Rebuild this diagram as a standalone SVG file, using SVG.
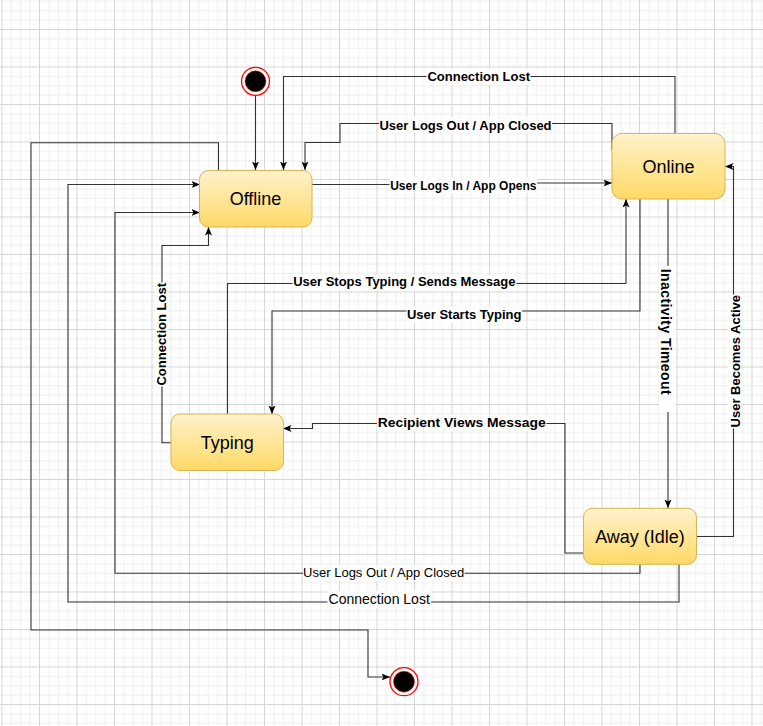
<svg xmlns="http://www.w3.org/2000/svg" width="763" height="726" viewBox="0 0 763 726">
<defs>
<pattern id="grid" patternUnits="userSpaceOnUse" x="1.5" y="-8.5" width="37.5" height="37.5">
<rect width="37.5" height="37.5" fill="#ffffff"/>
<g fill="#efefef">
<rect x="9.375" y="0" width="1" height="37.5"/>
<rect x="18.75" y="0" width="1" height="37.5"/>
<rect x="28.125" y="0" width="1" height="37.5"/>
<rect x="0" y="9.375" width="37.5" height="1"/>
<rect x="0" y="18.75" width="37.5" height="1"/>
<rect x="0" y="28.125" width="37.5" height="1"/>
</g>
<g fill="#d6d6d6">
<rect x="0" y="0" width="1" height="37.5"/>
<rect x="0" y="0" width="37.5" height="1"/>
</g>
</pattern>
<linearGradient id="yel" x1="0" y1="0" x2="0" y2="1">
<stop offset="0" stop-color="#fff2cc"/>
<stop offset="1" stop-color="#ffd966"/>
</linearGradient>
<marker id="arr" markerUnits="userSpaceOnUse" markerWidth="10" markerHeight="8" refX="8.5" refY="3.5" orient="auto">
<path d="M0,0 L8.5,3.5 L0,7 L2,3.5 z" fill="#000"/>
</marker>
<style>
.node rect{fill:url(#yel);stroke:#d6b656;stroke-width:1}
.node text{font-family:"Liberation Sans",Arial,sans-serif;font-size:18px;fill:#000;text-anchor:middle}
.edge{fill:none;stroke:#333;stroke-width:1.1;marker-end:url(#arr)}
.edgeN{fill:none;stroke:#333;stroke-width:1.1}
.lbl{font-family:"Liberation Sans",Arial,sans-serif;font-size:13px;font-weight:bold;fill:#000;text-anchor:middle}
.lbg{fill:#ffffff}
</style>
</defs>
<rect x="0" y="0" width="763" height="726" fill="url(#grid)"/>
<g id="connectors">
<path class="edge" d="M255.5,96 V170"/>
<path class="edge" d="M675,133 V76.5 H283.5 V170"/>
<path class="edge" d="M612,150 V123.5 H340 V142.5 H305 V170"/>
<path class="edge" d="M312,184.5 H463 V183 H612"/>
<path class="edge" d="M227.5,414 V283.5 H626 V199"/>
<path class="edge" d="M640,199 V311 H272 V414"/>
<path class="edge" d="M668,199 V508"/>
<path class="edge" d="M697,536.5 H733.5 V166.5 H725"/>
<path class="edge" d="M583,553 H565 V423.5 H312.5 V428.5 H283"/>
<path class="edge" d="M171,442.7 H162 V245.5 H208.5 V227"/>
<path class="edge" d="M640,564 V573.3 H115 V212.5 H200"/>
<path class="edge" d="M679,564 V602 H68 V184.5 H200"/>
<path class="edge" d="M218.5,170 V142.7 H31 V630 H368 V677 H390"/>
<g id="labels">
<rect class="lbg" x="426.5" y="69" width="104" height="16"/>
<text class="lbl" x="478.7" y="81">Connection Lost</text>
<rect class="lbg" x="379" y="117" width="173" height="16"/>
<text class="lbl" x="465.5" y="130">User Logs Out / App Closed</text>
<rect class="lbg" x="389.5" y="177" width="147.5" height="16"/>
<text class="lbl" x="463.3" y="190" style="font-size:12px">User Logs In / App Opens</text>
<rect class="lbg" x="292.5" y="275" width="224" height="16"/>
<text class="lbl" x="404.3" y="286">User Stops Typing / Sends Message</text>
<rect class="lbg" x="406.5" y="307" width="115.5" height="16"/>
<text class="lbl" x="464.2" y="318.5">User Starts Typing</text>
<rect class="lbg" x="377" y="415" width="169.5" height="16"/>
<text class="lbl" x="461.7" y="426.6" textLength="168" lengthAdjust="spacingAndGlyphs">Recipient Views Message</text>
<rect class="lbg" x="303" y="565" width="161.5" height="16"/>
<text class="lbl" x="383.7" y="576.5" style="font-weight:normal">User Logs Out / App Closed</text>
<rect class="lbg" x="327.5" y="591" width="103.5" height="17"/>
<text class="lbl" x="379.2" y="604" style="font-weight:normal;font-size:14px">Connection Lost</text>
<rect class="lbg" x="155" y="282.5" width="13" height="104"/>
<text class="lbl" transform="translate(166,334.3) rotate(-90)">Connection Lost</text>
<rect class="lbg" x="659" y="266" width="16" height="146"/>
<text class="lbl" transform="translate(661,331.7) rotate(90)" style="font-size:14px" x="0" y="0" textLength="126" lengthAdjust="spacing">Inactivity Timeout</text>
<rect class="lbg" x="728" y="294.5" width="13" height="134"/>
<text class="lbl" transform="translate(739.5,361.2) rotate(-90)">User Becomes Active</text>
</g>
</g>
<g id="start">
<circle cx="255.5" cy="81.3" r="14" fill="#ffffff" stroke="#ff0000" stroke-width="1.3"/>
<circle cx="255.5" cy="81.3" r="10.5" fill="#000000" stroke="#ff0000" stroke-width="0.6"/>
</g>
<g id="end">
<circle cx="404" cy="681.7" r="14" fill="#ffffff" stroke="#ff0000" stroke-width="1.3"/>
<circle cx="404" cy="681.7" r="10.5" fill="#000000" stroke="#ff0000" stroke-width="0.6"/>
</g>
<g id="offline" class="node">
<rect x="199.5" y="170.5" width="112.5" height="56.5" rx="9"/>
<text x="255.5" y="205">Offline</text>
</g>
<g id="online" class="node">
<rect x="612" y="133.5" width="113" height="65.5" rx="10"/>
<text x="668.5" y="173.3">Online</text>
</g>
<g id="typing" class="node">
<rect x="171" y="414" width="112.5" height="56.5" rx="9"/>
<text x="227.3" y="449.3">Typing</text>
</g>
<g id="away" class="node">
<rect x="583.5" y="508.3" width="113" height="56" rx="9"/>
<text x="640" y="543">Away (Idle)</text>
</g>
</svg>
